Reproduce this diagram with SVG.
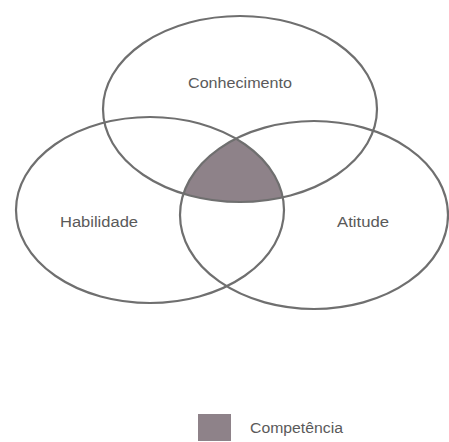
<svg xmlns="http://www.w3.org/2000/svg" width="449" height="442" viewBox="0 0 449 442">
<style>
.e{fill:none;stroke:#6f6f6f;stroke-width:2.2}
.t{font-family:"Liberation Sans",Arial,sans-serif;font-size:14px;fill:#5a5a5a}
.s{fill:#8e8289}
</style>
<defs>
<clipPath id="cl"><ellipse cx="150" cy="210" rx="134" ry="93"/></clipPath>
<clipPath id="cr"><ellipse cx="314" cy="215" rx="134" ry="94"/></clipPath>
</defs>
<rect width="449" height="442" fill="#fff"/>
<g id="competencia-area" clip-path="url(#cr)">
<g clip-path="url(#cl)">
<ellipse class="s" cx="240" cy="109" rx="137" ry="93"/>
</g>
</g>
<g id="conhecimento">
<ellipse class="e" cx="240" cy="109" rx="137" ry="93"/>
<text class="t" x="240" y="88" text-anchor="middle" textLength="104" lengthAdjust="spacingAndGlyphs">Conhecimento</text>
</g>
<g id="habilidade">
<ellipse class="e" cx="150" cy="210" rx="134" ry="93"/>
<text class="t" x="99" y="227" text-anchor="middle" textLength="78" lengthAdjust="spacingAndGlyphs">Habilidade</text>
</g>
<g id="atitude">
<ellipse class="e" cx="314" cy="215" rx="134" ry="94"/>
<text class="t" x="363" y="227" text-anchor="middle" textLength="52" lengthAdjust="spacingAndGlyphs">Atitude</text>
</g>
<g id="legenda">
<rect class="s" x="198" y="414" width="33" height="27"/>
<text class="t" x="250" y="433" textLength="93" lengthAdjust="spacingAndGlyphs">Competência</text>
</g>
</svg>
